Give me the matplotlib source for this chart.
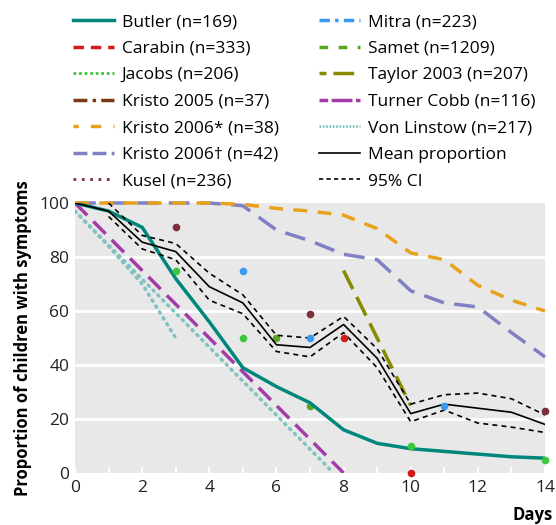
import matplotlib
matplotlib.use("Agg")
import matplotlib.pyplot as plt
from matplotlib.lines import Line2D

plt.rcParams['font.family'] = ['Open Sans', 'DejaVu Sans']

# ---- data ----
days_full = [0, 1, 2, 3, 4, 5, 6, 7, 8, 9, 10, 11, 12, 13, 14]
butler = [100, 97, 91, 72, 56, 39, 32, 26, 16, 11, 9, 8, 7, 6, 5.5]
kristo06a = [100, 100, 100, 100, 100, 99.5, 98, 97, 95.5, 90.5, 81.5, 79, 69.5, 64, 60]
kristo06b = [100, 100, 100, 100, 100, 99, 90, 86, 81, 79, 67.5, 63, 61.5, 52, 43]
mean_prop = [100, 97, 85.5, 82, 69, 63, 47.5, 46.5, 55, 42.5, 22, 25.5, 24, 22.5, 18]
ci_days = [1, 2, 3, 4, 5, 6, 7, 8, 9, 10, 11, 12, 13, 14]
ci_upper = [100, 88, 85, 74, 66, 51, 50, 58, 46, 25.5, 29, 29.6, 27.5, 21.5]
ci_lower = [95, 83, 79, 64, 59, 45, 43, 52, 39, 19, 23.3, 18.5, 17, 15]
taylor_days = [8, 10]
taylor = [75, 25]
turner_days = [0, 8]
turner = [100, 0]
vonl_days = [0, 7.7]
vonl = [97, 0]
vonl2_days = [0, 1, 2, 3]
vonl2 = [97, 84, 70, 50]
kusel_days = [3, 7, 14]
kusel = [91, 59, 23]
mitra_days = [5, 7, 11]
mitra = [75, 50, 25]
carabin_days = [8, 10]
carabin = [50, 0]
jacobs_days = [3, 5, 10, 14]
jacobs = [75, 50, 10, 5]
samet_days = [6, 7]
samet = [50, 25]

c_butler = '#00877c'
c_carabin = '#d21a1a'
c_jacobs = '#3cc83c'
c_kristo05 = '#7a3b12'
c_kristo06a = '#e8a11a'
c_kristo06b = '#8080c4'
c_kusel = '#7b2f3a'
c_mitra = '#3a9af2'
c_samet = '#55a81c'
c_taylor = '#858a00'
c_turner = '#a23ca8'
c_vonl = '#80c2c2'

FS = 12.5

fig = plt.figure(figsize=(5.56, 5.25), dpi=100)
ax = fig.add_axes([75/556, 1-473/525, 470/556, 270/525])
ax.set_facecolor('#e8e8e8')
for s in ax.spines.values():
    s.set_visible(False)
ax.set_xlim(0, 14)
ax.set_ylim(0, 100)
ax.set_yticks([0, 20, 40, 60, 80, 100])
ax.set_xticks([0, 2, 4, 6, 8, 10, 12, 14])
ax.set_xticks(range(15), minor=True)
ax.tick_params(axis='x', which='both', direction='in', colors='white', length=4, width=1.5,
               labelcolor='#222222', labelsize=FS, pad=5)
ax.tick_params(axis='y', length=0, labelcolor='#222222', labelsize=FS, pad=4)
for y in [20, 40, 60, 80]:
    ax.axhline(y, color='white', lw=2, zorder=1)

lw = 2.5
dot = (0, (0.4, 1.6))
ax.plot(vonl_days, vonl, color=c_vonl, lw=lw, linestyle=dot, dash_capstyle='round', zorder=2)
ax.plot(vonl2_days, vonl2, color=c_vonl, lw=lw, linestyle=dot, dash_capstyle='round', zorder=2)
ax.plot(turner_days, turner, color=c_turner, lw=lw, linestyle=(0, (5, 2.5)), zorder=3)
ax.plot(days_full, butler, color=c_butler, lw=lw, zorder=4)
ax.plot(days_full, kristo06b, color=c_kristo06b, lw=lw, linestyle=(0, (6, 3)), zorder=3, clip_on=False)
ax.plot(days_full, kristo06a, color=c_kristo06a, lw=lw, linestyle=(0, (4, 3)), zorder=3, clip_on=False)
ax.plot(taylor_days, taylor, color=c_taylor, lw=lw, linestyle=(0, (6, 2.5)), zorder=3)
ax.plot(ci_days, ci_upper, color='black', lw=1.2, linestyle=(0, (3, 2.5)), zorder=5)
ax.plot(ci_days, ci_lower, color='black', lw=1.2, linestyle=(0, (3, 2.5)), zorder=5)
ax.plot(days_full, mean_prop, color='black', lw=1.2, zorder=5)

ms = 5.5
ax.plot(kusel_days, kusel, 'o', color=c_kusel, ms=ms, mec='none', zorder=6, clip_on=False)
ax.plot(mitra_days, mitra, 'o', color=c_mitra, ms=ms, mec='none', zorder=6, clip_on=False)
ax.plot(carabin_days, carabin, 'o', color=c_carabin, ms=ms, mec='none', zorder=6, clip_on=False)
ax.plot(jacobs_days, jacobs, 'o', color=c_jacobs, ms=ms, mec='none', zorder=6, clip_on=False)
ax.plot(samet_days, samet, 'o', color=c_samet, ms=ms, mec='none', zorder=3, clip_on=False)

ax.set_ylabel('Proportion of children with symptoms', fontsize=12, fontweight='bold', labelpad=5)
fig.text(553/556, 1-515/525, 'Days', ha='right', va='center', fontsize=12, fontweight='bold')

handles1 = [
    Line2D([], [], color=c_butler, lw=lw),
    Line2D([], [], color=c_carabin, lw=lw, linestyle=(0, (3, 2))),
    Line2D([], [], color=c_jacobs, lw=2, linestyle=(0, (1, 1))),
    Line2D([], [], color=c_kristo05, lw=lw, linestyle=(0, (4, 1.5, 1, 1.5))),
    Line2D([], [], color=c_kristo06a, lw=lw, linestyle=(1.5, (3, 3.5))),
    Line2D([], [], color=c_kristo06b, lw=lw, linestyle=(0, (4, 1.5))),
    Line2D([], [], color=c_kusel, lw=2, linestyle=(0, (1, 2))),
]
handles2 = [
    Line2D([], [], color=c_mitra, lw=lw, linestyle=(0, (3, 1.5, 1, 1.5))),
    Line2D([], [], color=c_samet, lw=lw, linestyle=(0, (2.5, 3))),
    Line2D([], [], color=c_taylor, lw=lw, linestyle=(0, (2, 2, 6, 2))),
    Line2D([], [], color=c_turner, lw=lw, linestyle=(0, (2.5, 1, 6, 1))),
    Line2D([], [], color=c_vonl, lw=2, linestyle=(0, (0.6, 0.6))),
    Line2D([], [], color='black', lw=1.2),
    Line2D([], [], color='black', lw=1.2, linestyle=(0, (2.5, 2))),
]
labels1 = ['Butler (n=169)', 'Carabin (n=333)', 'Jacobs (n=206)', 'Kristo 2005 (n=37)',
           'Kristo 2006* (n=38)', 'Kristo 2006† (n=42)', 'Kusel (n=236)']
labels2 = ['Mitra (n=223)', 'Samet (n=1209)', 'Taylor 2003 (n=207)', 'Turner Cobb (n=116)',
           'Von Linstow (n=217)', 'Mean proportion', '95% CI']
kw = dict(loc='upper left', frameon=False, fontsize=FS, handlelength=2.35, handletextpad=0.45,
          labelspacing=0.6, borderaxespad=0, borderpad=0)
leg1 = fig.legend(handles1, labels1, bbox_to_anchor=(73/556, 1-14/525), **kw)
leg2 = fig.legend(handles2, labels2, bbox_to_anchor=(319/556, 1-14/525), **kw)

fig.savefig('out.png', dpi=100)
